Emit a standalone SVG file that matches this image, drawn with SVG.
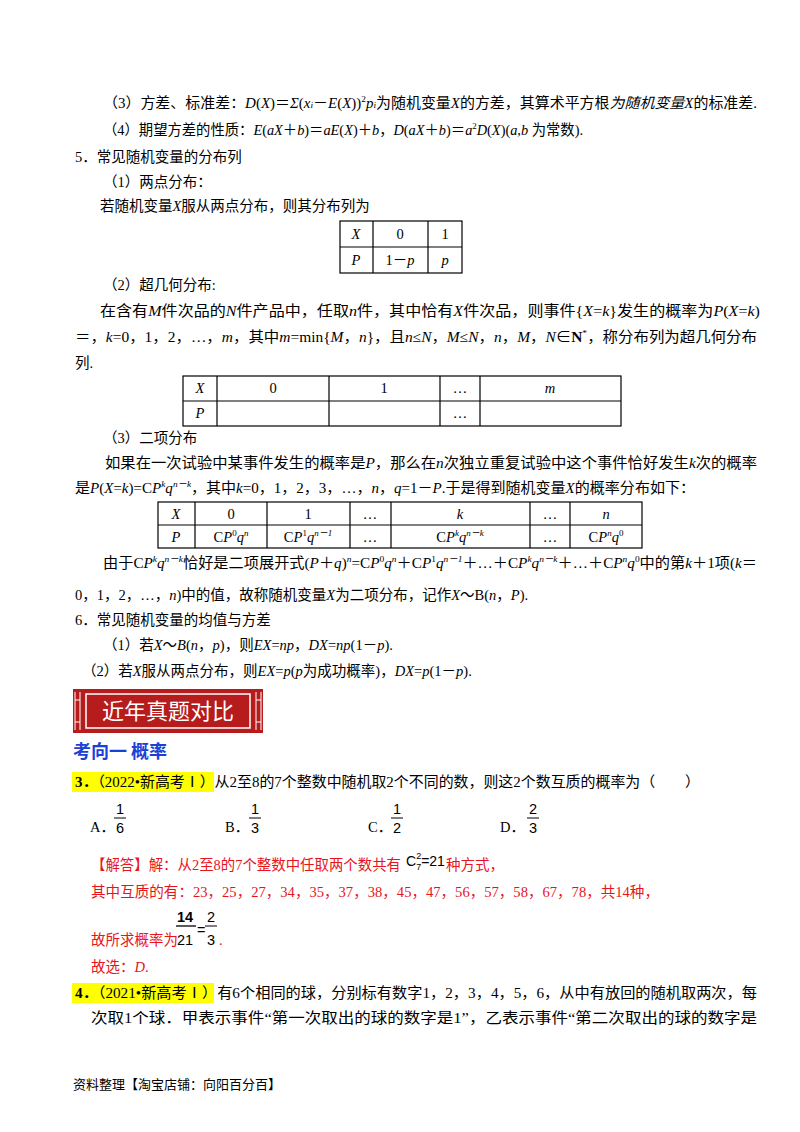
<svg xmlns="http://www.w3.org/2000/svg" width="800" height="1132" viewBox="0 0 800 1132">
<style>
text{font-family:"Liberation Serif","Noto Sans CJK SC",serif;font-size:14.5px;fill:#000}
.i{font-style:italic}
.r{fill:#e8141c}
.t{fill:none;stroke:#000;stroke-width:1.2}
.c{text-anchor:middle}
.s{font-size:9px}
.f{font-family:"Liberation Sans","Noto Sans CJK SC",sans-serif}
</style>
<rect width="800" height="1132" fill="#fff"/>
<g id="notes">
<text x="103" y="108" textLength="654" lengthAdjust="spacingAndGlyphs">（3）方差、标准差：<tspan class="i">D</tspan>(<tspan class="i">X</tspan>)＝<tspan class="i">Σ</tspan>(<tspan class="i">x<tspan class="s">i</tspan></tspan>－<tspan class="i">E</tspan>(<tspan class="i">X</tspan>))<tspan class="s" dy="-6">2</tspan><tspan class="i" dy="6">p<tspan class="s">i</tspan></tspan>为随机变量<tspan class="i">X</tspan>的方差，其算术平方根<tspan class="i">为随机变量X</tspan>的标准差.</text>
<text x="103" y="135" textLength="480" lengthAdjust="spacingAndGlyphs">（4）期望方差的性质：<tspan class="i">E</tspan>(<tspan class="i">aX</tspan>＋<tspan class="i">b</tspan>)＝<tspan class="i">aE</tspan>(<tspan class="i">X</tspan>)＋<tspan class="i">b</tspan>，<tspan class="i">D</tspan>(<tspan class="i">aX</tspan>＋<tspan class="i">b</tspan>)＝<tspan class="i">a</tspan><tspan class="s" dy="-6">2</tspan><tspan class="i" dy="6">D</tspan>(<tspan class="i">X</tspan>)(<tspan class="i">a</tspan>,<tspan class="i">b</tspan> 为常数).</text>
<text x="75" y="162">5．常见随机变量的分布列</text>
<text x="103" y="187">（1）两点分布：</text>
<text x="100" y="211">若随机变量<tspan class="i">X</tspan>服从两点分布，则其分布列为</text>
</g>
<g id="table1">
<rect class="t" x="340" y="221" width="122" height="52"/>
<path class="t" d="M340 247H462M373 221V273M428 221V273"/>
<text class="c i" x="356" y="239">X</text><text class="c" x="400" y="239">0</text><text class="c" x="445" y="239">1</text>
<text class="c i" x="356" y="265">P</text><text class="c" x="400" y="265">1－<tspan class="i">p</tspan></text><text class="c i" x="445" y="265">p</text>
</g>
<g id="hyper">
<text x="103" y="290">（2）超几何分布:</text>
<text x="100" y="316" textLength="660" lengthAdjust="spacingAndGlyphs">在含有<tspan class="i">M</tspan>件次品的<tspan class="i">N</tspan>件产品中，任取<tspan class="i">n</tspan>件，其中恰有<tspan class="i">X</tspan>件次品，则事件{<tspan class="i">X</tspan>=<tspan class="i">k</tspan>}发生的概率为<tspan class="i">P</tspan>(<tspan class="i">X</tspan>=<tspan class="i">k</tspan>)</text>
<text x="75" y="342" textLength="682" lengthAdjust="spacingAndGlyphs">＝，<tspan class="i">k</tspan>=0，1，2，…，<tspan class="i">m</tspan>，其中<tspan class="i">m</tspan>=min{<tspan class="i">M</tspan>，<tspan class="i">n</tspan>}，且<tspan class="i">n</tspan>≤<tspan class="i">N</tspan>，<tspan class="i">M</tspan>≤<tspan class="i">N</tspan>，<tspan class="i">n</tspan>，<tspan class="i">M</tspan>，<tspan class="i">N</tspan>∈<tspan font-weight="bold">N</tspan><tspan class="s" dy="-6">*</tspan><tspan dy="6">，称分布列为超几何分布</tspan></text>
<text x="75" y="368">列.</text>
</g>
<g id="table2">
<rect class="t" x="183" y="376" width="438" height="50"/>
<path class="t" d="M183 401H621M217 376V426M329 376V426M440 376V426M480 376V426"/>
<text class="c i" x="200" y="393">X</text><text class="c" x="273" y="393">0</text><text class="c" x="384" y="393">1</text><text class="c" x="460" y="393">…</text><text class="c i" x="550" y="393">m</text>
<text class="c i" x="200" y="418">P</text><text class="c" x="460" y="418">…</text>
</g>
<g id="binom">
<text x="103" y="443">（3）二项分布</text>
<text x="105" y="468" textLength="652" lengthAdjust="spacingAndGlyphs">如果在一次试验中某事件发生的概率是<tspan class="i">P</tspan>，那么在<tspan class="i">n</tspan>次独立重复试验中这个事件恰好发生<tspan class="i">k</tspan>次的概率</text>
<text x="75" y="493" textLength="620" lengthAdjust="spacingAndGlyphs">是<tspan class="i">P</tspan>(<tspan class="i">X</tspan>=<tspan class="i">k</tspan>)=C<tspan class="i">P</tspan><tspan class="s i" dy="-6">k</tspan><tspan class="i" dy="6">q</tspan><tspan class="s i" dy="-6">n－k</tspan><tspan dy="6">，其中</tspan><tspan class="i">k</tspan>=0，1，2，3，…，<tspan class="i">n</tspan>，<tspan class="i">q</tspan>=1－<tspan class="i">P</tspan>.于是得到随机变量<tspan class="i">X</tspan>的概率分布如下：</text>
</g>
<g id="table3">
<rect class="t" x="158" y="502" width="484" height="46"/>
<path class="t" d="M158 525H642M195 502V548M267 502V548M350 502V548M391 502V548M530 502V548M570 502V548"/>
<text class="c i" x="176" y="519">X</text><text class="c" x="231" y="519">0</text><text class="c" x="308" y="519">1</text><text class="c" x="370" y="519">…</text><text class="c i" x="460" y="519">k</text><text class="c" x="550" y="519">…</text><text class="c i" x="606" y="519">n</text>
<text class="c i" x="176" y="542">P</text>
<text class="c" x="231" y="542">C<tspan class="i">P</tspan><tspan class="s" dy="-6">0</tspan><tspan class="i" dy="6">q</tspan><tspan class="s i" dy="-6">n</tspan></text>
<text class="c" x="308" y="542">C<tspan class="i">P</tspan><tspan class="s" dy="-6">1</tspan><tspan class="i" dy="6">q</tspan><tspan class="s i" dy="-6">n－1</tspan></text>
<text class="c" x="370" y="542">…</text>
<text class="c" x="460" y="542">C<tspan class="i">P</tspan><tspan class="s i" dy="-6">k</tspan><tspan class="i" dy="6">q</tspan><tspan class="s i" dy="-6">n－k</tspan></text>
<text class="c" x="550" y="542">…</text>
<text class="c" x="606" y="542">C<tspan class="i">P</tspan><tspan class="s i" dy="-6">n</tspan><tspan class="i" dy="6">q</tspan><tspan class="s" dy="-6">0</tspan></text>
</g>
<g id="binom2">
<text x="103" y="568" textLength="654" lengthAdjust="spacingAndGlyphs">由于C<tspan class="i">P</tspan><tspan class="s i" dy="-6">k</tspan><tspan class="i" dy="6">q</tspan><tspan class="s i" dy="-6">n－k</tspan><tspan dy="6">恰好是二项展开式(</tspan><tspan class="i">P</tspan>＋<tspan class="i">q</tspan>)<tspan class="s i" dy="-6">n</tspan><tspan dy="6">=C</tspan><tspan class="i">P</tspan><tspan class="s" dy="-6">0</tspan><tspan class="i" dy="6">q</tspan><tspan class="s i" dy="-6">n</tspan><tspan dy="6">＋C</tspan><tspan class="i">P</tspan><tspan class="s" dy="-6">1</tspan><tspan class="i" dy="6">q</tspan><tspan class="s i" dy="-6">n－1</tspan><tspan dy="6">＋…＋C</tspan><tspan class="i">P</tspan><tspan class="s i" dy="-6">k</tspan><tspan class="i" dy="6">q</tspan><tspan class="s i" dy="-6">n－k</tspan><tspan dy="6">＋…＋C</tspan><tspan class="i">P</tspan><tspan class="s i" dy="-6">n</tspan><tspan class="i" dy="6">q</tspan><tspan class="s" dy="-6">0</tspan><tspan dy="6">中的第</tspan><tspan class="i">k</tspan>＋1项(<tspan class="i">k</tspan>＝</text>
<text x="75" y="600">0，1，2，…，<tspan class="i">n</tspan>)中的值，故称随机变量<tspan class="i">X</tspan>为二项分布，记作<tspan class="i">X</tspan>～B(<tspan class="i">n</tspan>，<tspan class="i">P</tspan>).</text>
<text x="75" y="625">6．常见随机变量的均值与方差</text>
<text x="103" y="650">（1）若<tspan class="i">X</tspan>～<tspan class="i">B</tspan>(<tspan class="i">n</tspan>，<tspan class="i">p</tspan>)，则<tspan class="i">EX</tspan>=<tspan class="i">np</tspan>，<tspan class="i">DX</tspan>=<tspan class="i">np</tspan>(1－<tspan class="i">p</tspan>).</text>
<text x="82" y="676">（2）若<tspan class="i">X</tspan>服从两点分布，则<tspan class="i">EX</tspan>=<tspan class="i">p</tspan>(<tspan class="i">p</tspan>为成功概率)，<tspan class="i">DX</tspan>=<tspan class="i">p</tspan>(1－<tspan class="i">p</tspan>).</text>
</g>
<g id="banner">
<rect x="73" y="689" width="190" height="44" fill="#b71c1c"/>
<rect x="86" y="694" width="164" height="34" fill="none" stroke="#fff" stroke-width="1.5"/>
<path d="M75 692V730M80 692V730M75 700H80M75 722H80M256 692V730M261 692V730M256 700H261M256 722H261" stroke="#fff" stroke-width="1" fill="none"/>
<text x="168" y="719" class="c" style="font-family:'Noto Sans CJK SC',sans-serif;font-size:22px;fill:#fff">近年真题对比</text>
</g>
<g id="q3">
<text x="73" y="758" style="font-family:'Noto Sans CJK SC',sans-serif;font-size:18px;font-weight:bold;fill:#1c3fd6">考向一  概率</text>
<rect x="72" y="772" width="142" height="20" fill="#ffff00"/>
<text x="75" y="787" textLength="625" lengthAdjust="spacingAndGlyphs"><tspan font-weight="bold">3．</tspan>（2022•新高考Ⅰ）从2至8的7个整数中随机取2个不同的数，则这2个数互质的概率为（　　）</text>
<text x="90" y="832">A．</text><text x="225" y="832">B．</text><text x="368" y="832">C．</text><text x="500" y="832">D．</text>
<g class="f">
<text class="c f" x="120" y="814">1</text><text class="c f" x="120" y="833">6</text><path d="M114 818H126" stroke="#000"/>
<text class="c f" x="255" y="814">1</text><text class="c f" x="255" y="833">3</text><path d="M249 818H261" stroke="#000"/>
<text class="c f" x="397" y="814">1</text><text class="c f" x="397" y="833">2</text><path d="M391 818H403" stroke="#000"/>
<text class="c f" x="533" y="814">2</text><text class="c f" x="533" y="833">3</text><path d="M527 818H539" stroke="#000"/>
</g>
<text class="r" x="91" y="870" textLength="310" lengthAdjust="spacingAndGlyphs">【解答】解：从2至8的7个整数中任取两个数共有</text>
<text class="r f" x="406" y="866" style="fill:#000;font-size:14px">C<tspan class="s" dy="-7">2</tspan><tspan class="s" dx="-5" dy="11">7</tspan><tspan dy="-4">=21</tspan></text>
<text class="r" x="446" y="870">种方式，</text>
<text class="r" x="91" y="897" textLength="568" lengthAdjust="spacingAndGlyphs">其中互质的有：23，25，27，34，35，37，38，45，47，56，57，58，67，78，共14种，</text>
<text class="r" x="91" y="945">故所求概率为</text>
<text class="c f" x="185" y="922" font-weight="bold">14</text><path d="M176 926H196" stroke="#000" stroke-width="1.3"/><text class="c f" x="185" y="945">21</text>
<text class="f" x="197" y="935">=</text>
<text class="c f" x="211" y="922">2</text><path d="M205 926H217" stroke="#000"/><text class="c f" x="211" y="945">3</text>
<text class="r" x="219" y="945">.</text>
<text class="r" x="91" y="972">故选：<tspan class="i">D</tspan>.</text>
</g>
<g id="q4">
<rect x="72" y="983" width="142" height="20" fill="#ffff00"/>
<text x="75" y="998" textLength="682" lengthAdjust="spacingAndGlyphs"><tspan font-weight="bold">4．</tspan>（2021•新高考Ⅰ）有6个相同的球，分别标有数字1，2，3，4，5，6，从中有放回的随机取两次，每</text>
<text x="91" y="1023" textLength="666" lengthAdjust="spacingAndGlyphs">次取1个球．甲表示事件“第一次取出的球的数字是1”，乙表示事件“第二次取出的球的数字是</text>
<text x="73" y="1089" style="font-size:13px">资料整理【淘宝店铺：向阳百分百】</text>
</g>
</svg>
